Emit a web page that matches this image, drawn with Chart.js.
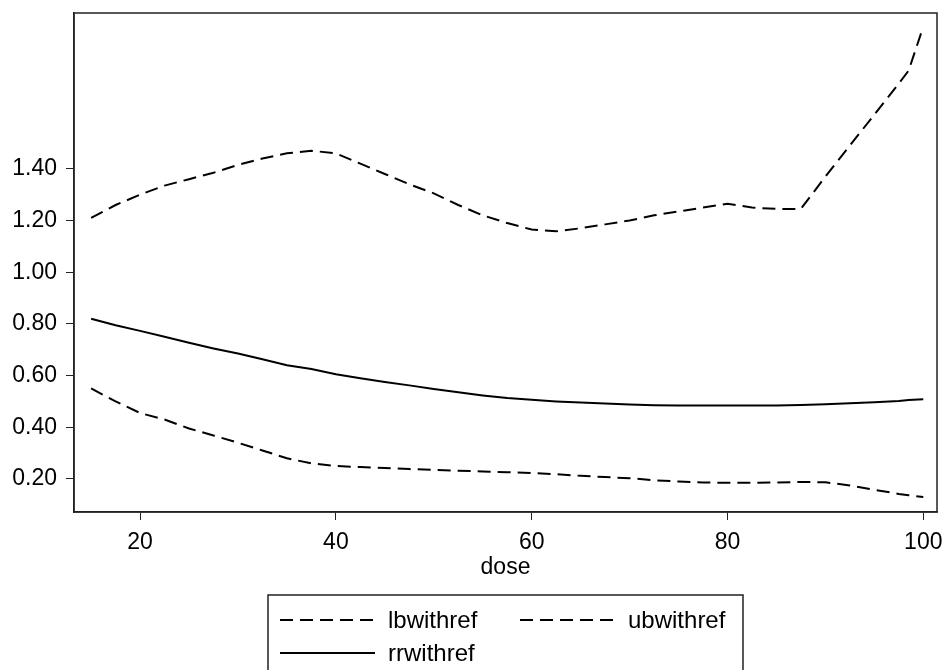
<!DOCTYPE html>
<html>
<head>
<meta charset="utf-8">
<script src="https://cdn.jsdelivr.net/npm/chart.js@4/dist/chart.umd.min.js"></script>
<style>
  html, body { margin: 0; padding: 0; background: #fff; }
  canvas { display: block; }
</style>
</head>
<body>
<canvas id="chart" width="944" height="670"></canvas>
<script>
// dose values and the three curves
const doses = [15, 17.5, 20, 22.5, 25, 27.5, 30, 32.5, 35, 37.5, 40, 42.5, 45, 47.5, 50,
  52.5, 55, 57.5, 60, 62.5, 65, 67.5, 70, 72.5, 75, 77.5, 80, 82.5, 85, 87.5, 90,
  92.5, 95, 97.5, 98.5, 100];

const lbwithref = [0.55, 0.50, 0.455, 0.43, 0.395, 0.368, 0.34, 0.31, 0.28, 0.26, 0.25,
  0.246, 0.242, 0.238, 0.235, 0.232, 0.229, 0.226, 0.223, 0.218, 0.212, 0.207, 0.203,
  0.195, 0.19, 0.186, 0.185, 0.185, 0.186, 0.188, 0.187, 0.175, 0.158, 0.142, 0.137, 0.13];

const ubwithref = [1.21, 1.26, 1.30, 1.335, 1.36, 1.385, 1.415, 1.44, 1.46, 1.47, 1.46,
  1.42, 1.38, 1.34, 1.305, 1.26, 1.22, 1.19, 1.165, 1.158, 1.17, 1.185, 1.20, 1.22,
  1.235, 1.25, 1.265, 1.25, 1.245, 1.245, 1.37, 1.49, 1.61, 1.73, 1.78, 1.95];

const rrwithref = [0.82, 0.795, 0.773, 0.75, 0.727, 0.705, 0.685, 0.663, 0.64, 0.625, 0.605,
  0.59, 0.575, 0.562, 0.548, 0.535, 0.523, 0.513, 0.506, 0.50, 0.496, 0.492, 0.488,
  0.485, 0.484, 0.484, 0.484, 0.484, 0.484, 0.486, 0.489, 0.493, 0.497, 0.502, 0.505, 0.508];

const xTicks = [20, 40, 60, 80, 100];
const yTicks = [0.2, 0.4, 0.6, 0.8, 1.0, 1.2, 1.4];

const FONT = '"Liberation Sans", Arial, sans-serif';
const DASH = [13, 7];

function toPoints(values) {
  return doses.map((d, i) => ({ x: d, y: values[i] }));
}

// box round the plot + legend box below it
const framePlugin = {
  id: 'frame',
  afterDraw(chart) {
    const ctx = chart.ctx;
    const a = chart.chartArea;
    ctx.save();
    ctx.strokeStyle = '#222';
    ctx.lineWidth = 1.5;
    ctx.strokeRect(a.left, a.top, a.right - a.left, a.bottom - a.top);

    // legend
    ctx.strokeRect(268, 595, 475, 120);
    const items = [
      { ds: 0, x: 280, y: 620 },
      { ds: 1, x: 520, y: 620 },
      { ds: 2, x: 280, y: 653 }
    ];
    ctx.font = '24px ' + FONT;
    ctx.fillStyle = '#000';
    ctx.textBaseline = 'middle';
    items.forEach(it => {
      const ds = chart.data.datasets[it.ds];
      ctx.beginPath();
      ctx.setLineDash(ds.borderDash || []);
      ctx.lineWidth = 2;
      ctx.strokeStyle = '#000';
      ctx.moveTo(it.x, it.y);
      ctx.lineTo(it.x + 95, it.y);
      ctx.stroke();
      ctx.setLineDash([]);
      ctx.fillText(ds.label, it.x + 108, it.y + 1);
    });
    ctx.restore();
  }
};

new Chart(document.getElementById('chart').getContext('2d'), {
  type: 'line',
  data: {
    datasets: [
      { label: 'lbwithref', data: toPoints(lbwithref), borderDash: DASH },
      { label: 'ubwithref', data: toPoints(ubwithref), borderDash: DASH },
      { label: 'rrwithref', data: toPoints(rrwithref) }
    ]
  },
  options: {
    responsive: false,
    animation: false,
    devicePixelRatio: 1,
    layout: { padding: { top: 13, right: 7, left: 0, bottom: 89 } },
    elements: {
      line: { borderColor: '#000', borderWidth: 2, tension: 0, fill: false },
      point: { radius: 0 }
    },
    plugins: {
      legend: { display: false },
      tooltip: { enabled: false }
    },
    scales: {
      x: {
        type: 'linear',
        min: 13.25,
        max: 101.4,
        afterBuildTicks: s => { s.ticks = xTicks.map(v => ({ value: v })); },
        afterFit: s => { s.height = 69; s.paddingLeft = 0; s.paddingRight = 0; },
        grid: { drawOnChartArea: false, drawTicks: true, tickLength: 8, color: '#222' },
        border: { display: true, color: '#222', width: 1.5 },
        ticks: { color: '#000', padding: 9, font: { family: FONT, size: 23 } },
        title: {
          display: true, text: 'dose', color: '#000',
          padding: { top: 0, bottom: 0 }, font: { family: FONT, size: 23 }
        }
      },
      y: {
        type: 'linear',
        min: 0.072,
        max: 2.003,
        afterBuildTicks: s => { s.ticks = yTicks.map(v => ({ value: v })); },
        afterFit: s => { s.width = 74; s.paddingTop = 0; s.paddingBottom = 0; },
        grid: { drawOnChartArea: false, drawTicks: true, tickLength: 8, color: '#222' },
        border: { display: true, color: '#222', width: 1.5 },
        ticks: {
          color: '#000', padding: 9, font: { family: FONT, size: 23 },
          callback: v => v.toFixed(2)
        }
      }
    }
  },
  plugins: [framePlugin]
});
</script>
</body>
</html>
